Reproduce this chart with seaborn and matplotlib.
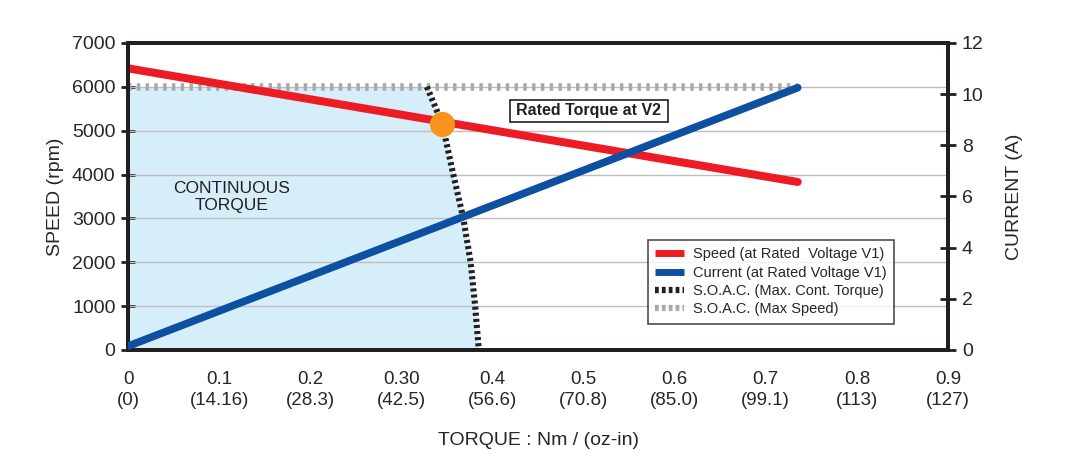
import numpy as np
import pandas as pd
import seaborn as sns
import matplotlib.pyplot as plt
from matplotlib.lines import Line2D

# --- data ---
torque = [0.0, 0.735]
speed = [6420, 3830]          # rpm, at rated voltage V1
current = [0.15, 10.25]       # A, at rated voltage V1
max_speed = [6000, 6000]      # S.O.A.C. max speed

soac_torque = [0.328, 0.345, 0.357, 0.368, 0.376, 0.381, 0.385]
soac_speed = [6000, 5150, 4000, 3000, 2000, 1000, 0]

rated_point = (0.345, 5150)

xticks = [0, 0.1, 0.2, 0.3, 0.4, 0.5, 0.6, 0.7, 0.8, 0.9]
xticklabels = ["0\n(0)", "0.1\n(14.16)", "0.2\n(28.3)", "0.30\n(42.5)", "0.4\n(56.6)",
               "0.5\n(70.8)", "0.6\n(85.0)", "0.7\n(99.1)", "0.8\n(113)", "0.9\n(127)"]

sns.set_style("white")
plt.rcParams['font.family'] = ['Liberation Sans Narrow', 'Liberation Sans', 'DejaVu Sans']

RED = "#ed1c24"
BLUE = "#0d4fa0"
GRAY = "#a7a9ac"
DARK = "#231f20"

fig = plt.figure(figsize=(10.67, 4.59), dpi=100)
ax = fig.add_axes([0.12, 0.2375, 0.7685, 0.669])
ax2 = ax.twinx()

# shaded continuous torque area
ax.fill_betweenx([6000] + soac_speed, 0, [0] + soac_torque, color="#d5eefa", lw=0, zorder=0.5)

for yv in range(1000, 7000, 1000):
    ax.axhline(yv, color="#bcbec0", lw=1, zorder=0.8)

df_speed = pd.DataFrame({"torque": torque, "speed": speed})
df_cur = pd.DataFrame({"torque": torque, "current": current})
df_max = pd.DataFrame({"torque": torque, "speed": max_speed})
df_soac = pd.DataFrame({"torque": soac_torque, "speed": soac_speed})

sns.lineplot(data=df_max, x="torque", y="speed", ax=ax, color=GRAY, lw=5.5,
             zorder=2).lines[-1].set_dashes([0.45, 0.7])
sns.lineplot(data=df_soac, x="torque", y="speed", ax=ax, color=DARK, lw=4.4, sort=False,
             estimator=None, zorder=3).lines[-1].set_dashes([0.5, 0.5])
sns.lineplot(data=df_speed, x="torque", y="speed", ax=ax, color=RED, lw=5.8, zorder=4)
ax.scatter([rated_point[0]], [rated_point[1]], s=330, color="#f7941d", zorder=6, lw=0)

sns.lineplot(data=df_cur, x="torque", y="current", ax=ax2, color=BLUE, lw=5.5, zorder=4)
ax.set_zorder(ax2.get_zorder() - 1)
ax2.patch.set_visible(False)
ax.patch.set_visible(True)

ax.set_xlim(0, 0.9)
ax.set_ylim(0, 7000)
ax2.set_ylim(0, 12)
ax.set_xticks(xticks)
ax.set_xticklabels(xticklabels, fontsize=13.5, linespacing=1.35)
ax.set_yticks(range(0, 7001, 1000))
ax.tick_params(axis="y", labelsize=14, direction="inout", length=10, width=2, color=DARK, pad=4)
ax.tick_params(axis="x", direction="inout", length=10, width=2, color=DARK, pad=10)
ax2.set_yticks(range(0, 13, 2))
ax2.tick_params(axis="y", labelsize=14, direction="inout", length=12, width=2, color=DARK, pad=4)

for a in (ax, ax2):
    for s in a.spines.values():
        s.set_color(DARK)
        s.set_linewidth(2.8)

ax.set_xlabel("TORQUE : Nm / (oz-in)", fontsize=14, labelpad=16)
ax.set_ylabel("SPEED (rpm)", fontsize=14, labelpad=6)
ax2.set_ylabel("CURRENT (A)", fontsize=14, labelpad=16)

ax.text(0.114, 3480, "CONTINUOUS\nTORQUE", ha="center", va="center", fontsize=12.5,
        color=DARK, linespacing=1.15, zorder=5)

# "Rated Torque at V2" box, text pushed to the right edge
ax.add_patch(plt.Rectangle((0.419, 5198), 0.174, 502, fc="white", ec=DARK, lw=1.2, zorder=6.5))
ax.text(0.585, 5449, "Rated Torque at V2", ha="right", va="center", fontsize=11.5,
        color=DARK, zorder=7, fontweight="bold")

handles = [
    Line2D([], [], color=RED, lw=5, solid_capstyle="butt"),
    Line2D([], [], color=BLUE, lw=5, solid_capstyle="butt"),
    Line2D([], [], color=DARK, lw=4.5, dashes=[0.6, 0.5]),
    Line2D([], [], color=GRAY, lw=4.5, dashes=[0.6, 0.5]),
]
labels = ["Speed (at Rated  Voltage V1)", "Current (at Rated Voltage V1)",
          "S.O.A.C. (Max. Cont. Torque)", "S.O.A.C. (Max Speed)"]
leg = ax2.legend(handles, labels, loc="upper left", bbox_to_anchor=(0.634, 0.358),
                 borderaxespad=0, frameon=True, fancybox=False, handlelength=2.0,
                 handletextpad=0.6, borderpad=0.5, labelspacing=0.3, prop={"size": 10.5})
leg.get_frame().set_edgecolor(DARK)
leg.get_frame().set_linewidth(1.2)
leg.set_zorder(10)

fig.savefig("out.png", dpi=100)
